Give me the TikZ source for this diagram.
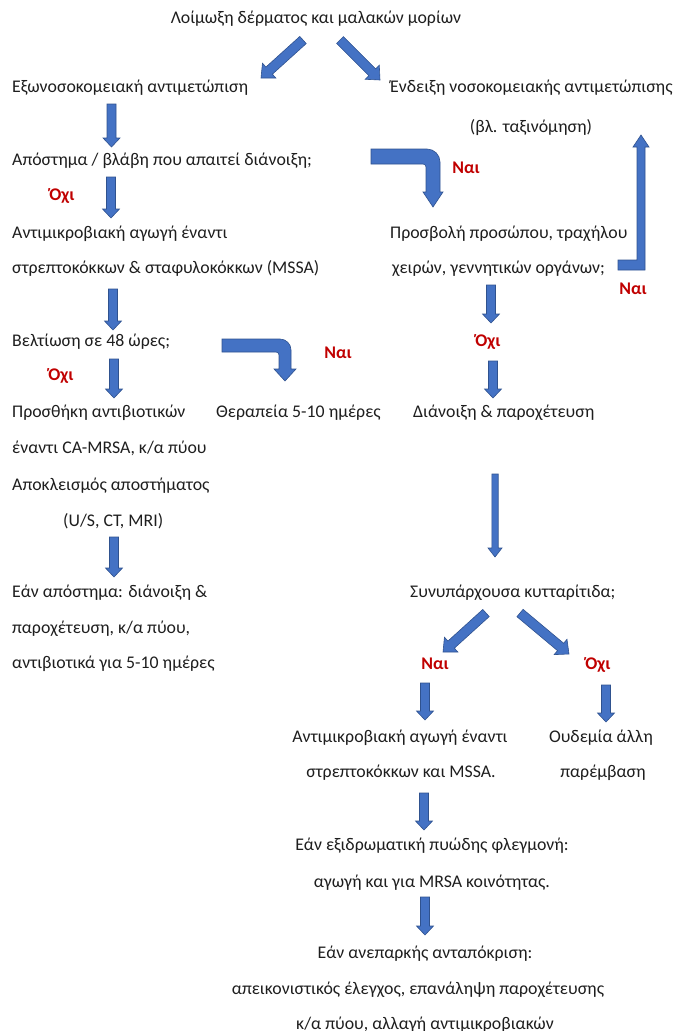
\documentclass[tikz,border=0pt]{standalone}
\usepackage{fontspec}
\setmainfont{Carlito}
\usetikzlibrary{calc}
\definecolor{arrfill}{RGB}{68,114,196}
\definecolor{arrline}{RGB}{47,82,143}
\definecolor{yesno}{RGB}{192,0,0}
\definecolor{txt}{RGB}{30,30,30}
\tikzset{
  blockarrow/.style={fill=arrfill,draw=arrline,line width=0.6pt,line join=miter},
  txtl/.style={anchor=base west,inner sep=0pt,text=txt,font=\fontsize{17.8}{20}\selectfont},
  txtc/.style={anchor=base,inner sep=0pt,text=txt,font=\fontsize{17.8}{20}\selectfont},
  lab/.style={anchor=base,inner sep=0pt,text=yesno,font=\bfseries\fontsize{17.8}{20}\selectfont},
}
\newcommand{\BArrow}[5]{%
  \coordinate (hd) at ($(#2)!#5!(#1)$);
  \filldraw[blockarrow] ($(#1)!#3!90:(#2)$) -- ($(hd)!#3!90:(#2)$) -- ($(hd)!#4!90:(#2)$) -- (#2) -- ($(hd)!#4!-90:(#2)$) -- ($(hd)!#3!-90:(#2)$) -- ($(#1)!#3!-90:(#2)$) -- cycle;}
\begin{document}
\begin{tikzpicture}[x=1pt,y=-1pt]
\useasboundingbox (0,0) rectangle (675,1031);
% texts
\node[txtc] (top) at (316,23.5) {Λοίμωξη δέρματος και μαλακών μορίων};
\node[txtl] (ext) at (12,92.5) {Εξωνοσοκομειακή αντιμετώπιση};
\node[txtl] (hosp) at (390,92.5) {Ένδειξη νοσοκομειακής αντιμετώπισης};
\node[txtc] (class) at (531,132.5) {(βλ. ταξινόμηση)};
\node[txtl] (absc) at (12,165.5) {Απόστημα / βλάβη που απαιτεί διάνοιξη;};
\node[lab] (no1) at (62,200.5) {Όχι};
\node[lab] (yes1) at (466,173.5) {Ναι};
\node[txtl] (anti1) at (12,238.5) {Αντιμικροβιακή αγωγή έναντι};
\node[txtl] (anti2) at (12,273.5) {στρεπτοκόκκων \& σταφυλοκόκκων (MSSA)};
\node[txtl] (face1) at (390,238.5) {Προσβολή προσώπου, τραχήλου};
\node[txtl] (face2) at (392,273.5) {χειρών, γεννητικών οργάνων;};
\node[lab] (yes2) at (633,294.5) {Ναι};
\node[txtl] (impr) at (12,346.5) {Βελτίωση σε 48 ώρες;};
\node[lab] (yes3) at (338,358.5) {Ναι};
\node[lab] (no2) at (488,346.5) {Όχι};
\node[lab] (no3) at (61,380.5) {Όχι};
\node[txtl] (add1) at (12,417.5) {Προσθήκη αντιβιοτικών};
\node[txtl] (ther) at (216,417.5) {Θεραπεία 5-10 ημέρες};
\node[txtl] (drain) at (413,417.5) {Διάνοιξη \& παροχέτευση};
\node[txtl] (add2) at (12,453.5) {έναντι CA-MRSA, κ/α πύου};
\node[txtl] (add3) at (12,490.5) {Αποκλεισμός αποστήματος};
\node[txtl] (add4) at (63,526.5) {(U/S, CT, MRI)};
\node[txtl] (if1) at (12,597.5) {Εάν απόστημα: διάνοιξη \&};
\node[txtl] (if2) at (12,633.5) {παροχέτευση, κ/α πύου,};
\node[txtl] (if3) at (12,668.5) {αντιβιοτικά για 5-10 ημέρες};
\node[txtl] (cell) at (410,597.5) {Συνυπάρχουσα κυτταρίτιδα;};
\node[lab] (yes4) at (435,669.5) {Ναι};
\node[lab] (no4) at (598,669.5) {Όχι};
\node[txtc] (am1) at (400,742.5) {Αντιμικροβιακή αγωγή έναντι};
\node[txtc] (am2) at (401,777.5) {στρεπτοκόκκων και MSSA.};
\node[txtc] (none1) at (601,742.5) {Ουδεμία άλλη};
\node[txtc] (none2) at (603,777.5) {παρέμβαση};
\node[txtc] (ex1) at (432,850.5) {Εάν εξιδρωματική πυώδης φλεγμονή:};
\node[txtc] (ex2) at (432,887.5) {αγωγή και για MRSA κοινότητας.};
\node[txtc] (in1) at (425,958.5) {Εάν ανεπαρκής ανταπόκριση:};
\node[txtc] (in2) at (418,994.5) {απεικονιστικός έλεγχος, επανάληψη παροχέτευσης};
\node[txtc] (in3) at (425,1029.5) {κ/α πύου, αλλαγή αντιμικροβιακών};
% arrow end points
\coordinate (a1s) at (303,40);  \coordinate (a1e) at (261,78);
\coordinate (a2s) at (340,40);  \coordinate (a2e) at (380,80);
\coordinate (a3s) at (111.5,104); \coordinate (a3e) at (111.5,147);
\coordinate (a4s) at (111,177); \coordinate (a4e) at (111,218);
\coordinate (a5s) at (113,289); \coordinate (a5e) at (113,330);
\coordinate (a6s) at (114,359); \coordinate (a6e) at (114,398);
\coordinate (a7s) at (114,537); \coordinate (a7e) at (114,577);
\coordinate (a8s) at (491,285); \coordinate (a8e) at (491,323);
\coordinate (a9s) at (493,361); \coordinate (a9e) at (493,398);
\coordinate (a10s) at (495,474); \coordinate (a10e) at (495,557);
\coordinate (a11s) at (486,613); \coordinate (a11e) at (443,652);
\coordinate (a12s) at (520,613); \coordinate (a12e) at (569,654);
\coordinate (a13s) at (425,683); \coordinate (a13e) at (425,720);
\coordinate (a14s) at (606,685); \coordinate (a14e) at (606,722);
\coordinate (a15s) at (424,793); \coordinate (a15e) at (424,830);
\coordinate (a16s) at (425,897); \coordinate (a16e) at (425,935);
% straight block arrows
\BArrow{a1s}{a1e}{4.8pt}{10pt}{11pt}
\BArrow{a2s}{a2e}{4.8pt}{10pt}{11pt}
\BArrow{a3s}{a3e}{4.5pt}{8.5pt}{9pt}
\BArrow{a4s}{a4e}{4.5pt}{8.5pt}{9pt}
\BArrow{a5s}{a5e}{4.5pt}{8.5pt}{9pt}
\BArrow{a6s}{a6e}{4.5pt}{8.5pt}{9pt}
\BArrow{a7s}{a7e}{4.5pt}{8.5pt}{9pt}
\BArrow{a8s}{a8e}{4.5pt}{8.5pt}{9pt}
\BArrow{a9s}{a9e}{4.5pt}{8.5pt}{9pt}
\BArrow{a10s}{a10e}{3.2pt}{7pt}{9pt}
\BArrow{a11s}{a11e}{4.8pt}{10pt}{11pt}
\BArrow{a12s}{a12e}{4.8pt}{10pt}{11pt}
\BArrow{a13s}{a13e}{4.5pt}{8.5pt}{9pt}
\BArrow{a14s}{a14e}{4.5pt}{8.5pt}{9pt}
\BArrow{a15s}{a15e}{4.5pt}{8.5pt}{9pt}
\BArrow{a16s}{a16e}{4.5pt}{8.5pt}{9pt}
% bent arrow: abscess -> face
\filldraw[blockarrow] (371,164) -- (371,149) [rounded corners=13pt]-- (440,149) [sharp corners]-- (440,192) -- (443,192) -- (433,207) -- (423,192) -- (426,192) [rounded corners=3pt]-- (426,164) [sharp corners]-- cycle;
% bent arrow: improvement -> therapy
\filldraw[blockarrow] (222,352) -- (222,339) [rounded corners=11pt]-- (291,339) [sharp corners]-- (291,369) -- (296,369) -- (285,381) -- (274,369) -- (279,369) [rounded corners=3pt]-- (279,352) [sharp corners]-- cycle;
% up arrow: face -> hospital
\filldraw[blockarrow] (618,270) -- (645,270) -- (645,147) -- (649,147) -- (641,135) -- (633,147) -- (637,147) -- (637,260) -- (618,260) -- cycle;
\end{tikzpicture}
\end{document}
